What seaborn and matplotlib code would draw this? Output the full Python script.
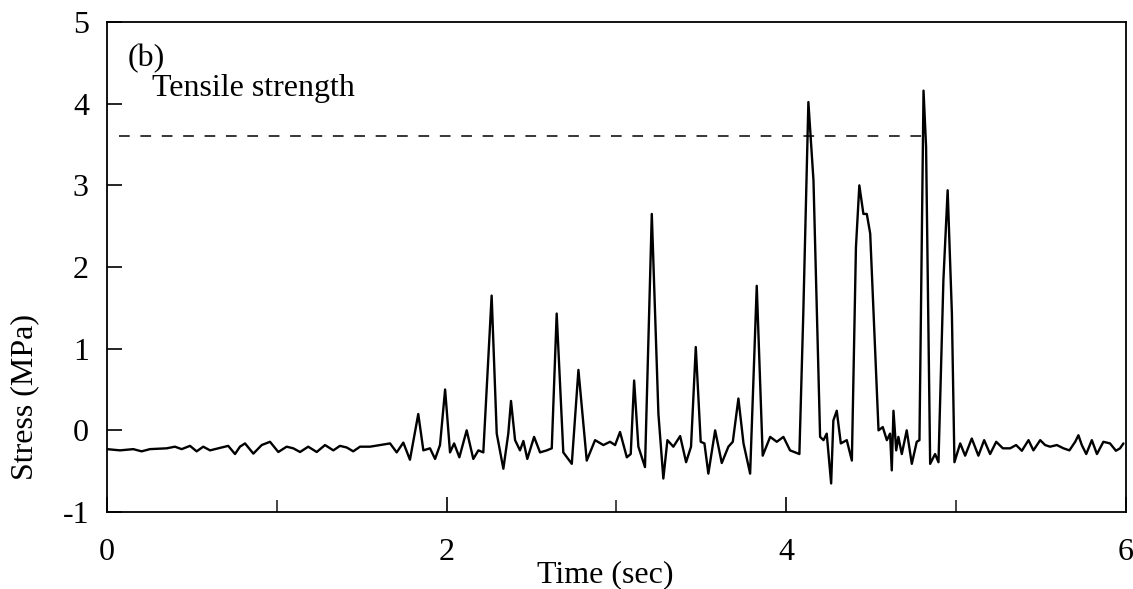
import matplotlib
matplotlib.use("Agg")
import matplotlib.pyplot as plt
import seaborn as sns
import numpy as np
import pandas as pd

# ---- data ----
quiet_time = [0.0, 0.077, 0.155, 0.204, 0.253, 0.352, 0.40, 0.44, 0.489, 0.528, 0.567,
              0.607, 0.655, 0.714, 0.754, 0.783, 0.813, 0.862, 0.911, 0.96, 1.009, 1.058,
              1.097, 1.137, 1.185, 1.235, 1.284, 1.333, 1.372, 1.412, 1.45, 1.49, 1.549,
              1.608, 1.667, 1.706, 1.745, 1.784]
quiet_stress = [-0.23, -0.245, -0.23, -0.257, -0.23, -0.22, -0.20, -0.23, -0.19, -0.257, -0.20,
                -0.245, -0.22, -0.19, -0.29, -0.20, -0.16, -0.285, -0.18, -0.14, -0.265, -0.20,
                -0.22, -0.265, -0.20, -0.265, -0.18, -0.245, -0.19, -0.21, -0.257, -0.20, -0.20,
                -0.18, -0.16, -0.27, -0.15, -0.36]

event_time = [1.833, 1.863, 1.902, 1.932, 1.961, 1.991, 2.02, 2.044, 2.075, 2.118, 2.157,
              2.187, 2.216, 2.265, 2.295, 2.334, 2.363, 2.379, 2.403, 2.432, 2.452, 2.475,
              2.515, 2.55, 2.59, 2.619, 2.648, 2.687, 2.737, 2.776, 2.825, 2.874, 2.923,
              2.962, 2.992, 3.021, 3.061, 3.084, 3.104, 3.129, 3.168, 3.208, 3.247, 3.276,
              3.30, 3.335, 3.375, 3.41, 3.439, 3.467, 3.496, 3.518, 3.541, 3.581, 3.62,
              3.659, 3.685, 3.718, 3.748, 3.787, 3.826, 3.861, 3.905, 3.944, 3.983, 4.022,
              4.077, 4.10, 4.13, 4.16, 4.199, 4.219, 4.238, 4.254, 4.264, 4.277, 4.297,
              4.321, 4.356, 4.386, 4.41, 4.43, 4.454, 4.474, 4.494, 4.543, 4.568, 4.592,
              4.611, 4.621, 4.631, 4.647, 4.66, 4.68, 4.709, 4.739, 4.768, 4.784, 4.808,
              4.823, 4.847, 4.876, 4.896, 4.925, 4.95, 4.975, 4.99]
event_stress = [0.20, -0.245, -0.22, -0.35, -0.18, 0.50, -0.27, -0.16, -0.33, 0.0, -0.35,
                -0.245, -0.27, 1.65, -0.04, -0.47, -0.04, 0.36, -0.12, -0.245, -0.13, -0.35,
                -0.08, -0.27, -0.245, -0.22, 1.43, -0.27, -0.41, 0.74, -0.37, -0.12, -0.18,
                -0.14, -0.18, -0.02, -0.33, -0.29, 0.61, -0.20, -0.45, 2.65, 0.2, -0.59,
                -0.12, -0.20, -0.07, -0.39, -0.20, 1.02, -0.14, -0.16, -0.53, 0.0, -0.40,
                -0.20, -0.14, 0.39, -0.16, -0.53, 1.77, -0.31, -0.08, -0.14, -0.08, -0.245,
                -0.29, 1.43, 4.02, 3.06, -0.08, -0.12, -0.04, -0.41, -0.65, 0.12, 0.24,
                -0.16, -0.12, -0.37, 2.24, 3.0, 2.65, 2.65, 2.41, 0.0, 0.04, -0.12,
                -0.04, -0.49, 0.24, -0.245, -0.08, -0.29, 0.0, -0.41, -0.14, -0.12, 4.16,
                3.47, -0.41, -0.29, -0.39, 1.84, 2.94, 1.43, -0.39]

tail_time = [5.024, 5.053, 5.092, 5.131, 5.165, 5.200, 5.236, 5.275, 5.318, 5.353, 5.387,
             5.426, 5.455, 5.495, 5.524, 5.553, 5.593, 5.632, 5.667, 5.701, 5.720, 5.740,
             5.766, 5.799, 5.829, 5.867, 5.906, 5.941, 5.965, 5.985]
tail_stress = [-0.16, -0.31, -0.10, -0.31, -0.12, -0.29, -0.14, -0.22, -0.22, -0.18, -0.25,
               -0.12, -0.245, -0.12, -0.18, -0.20, -0.18, -0.22, -0.245, -0.14, -0.06, -0.18,
               -0.29, -0.12, -0.29, -0.14, -0.16, -0.25, -0.22, -0.16]

tensile_strength = 3.6
x_major_ticks = [0, 2, 4, 6]
x_minor_ticks = [1, 3, 5]
y_ticks = [-1, 0, 1, 2, 3, 4, 5]
y_tick_labels = ["-1", "0", "1", "2", "3", "4", "5"]

df = pd.DataFrame({
    "Time (sec)": quiet_time + event_time + tail_time,
    "Stress (MPa)": quiet_stress + event_stress + tail_stress,
})

# ---- styling ----
sns.set_theme(style="ticks")
plt.rcParams["font.family"] = ["Liberation Serif", "DejaVu Serif"]
plt.rcParams["axes.unicode_minus"] = False

FS = 23

fig = plt.figure(figsize=(11.33, 5.89), dpi=100)
ax = fig.add_axes([0.0944, 0.1307, 0.8994, 0.8319])

sns.lineplot(data=df, x="Time (sec)", y="Stress (MPa)", ax=ax, color="black",
             linewidth=1.7, sort=False, estimator=None)

ax.axhline(tensile_strength, xmin=0.012, xmax=0.80, color="black", linewidth=1.1,
           dashes=(7, 7))

ax.set_xlim(0, 6)
ax.set_ylim(-1, 5)
ax.set_xticks(x_major_ticks)
ax.set_xticks(x_minor_ticks, minor=True)
ax.set_yticks(y_ticks)
ax.set_yticklabels(y_tick_labels)

for side in ["top", "right", "bottom", "left"]:
    ax.spines[side].set_visible(True)
    ax.spines[side].set_linewidth(1.3)
    ax.spines[side].set_color("black")

ax.tick_params(axis="both", which="major", direction="in", length=11, width=1.2,
               labelsize=FS, colors="black")
ax.tick_params(axis="y", which="major", pad=13)
ax.tick_params(axis="x", which="major", pad=19)
ax.tick_params(axis="x", which="minor", direction="in", length=9, width=1.2)

ax.set_xlabel("Time (sec)", fontsize=FS, color="black")
ax.set_ylabel("Stress (MPa)", fontsize=FS, color="black")
ax.xaxis.set_label_coords(0.489, -0.098)
ax.yaxis.set_label_coords(-0.066, 0.235)

ax.text(0.12, 4.55, "(b)", fontsize=FS, va="center", ha="left", color="black")
ax.text(0.265, 4.18, "Tensile strength", fontsize=FS, va="center", ha="left", color="black")

fig.savefig("out.png", dpi=100, facecolor="white")
